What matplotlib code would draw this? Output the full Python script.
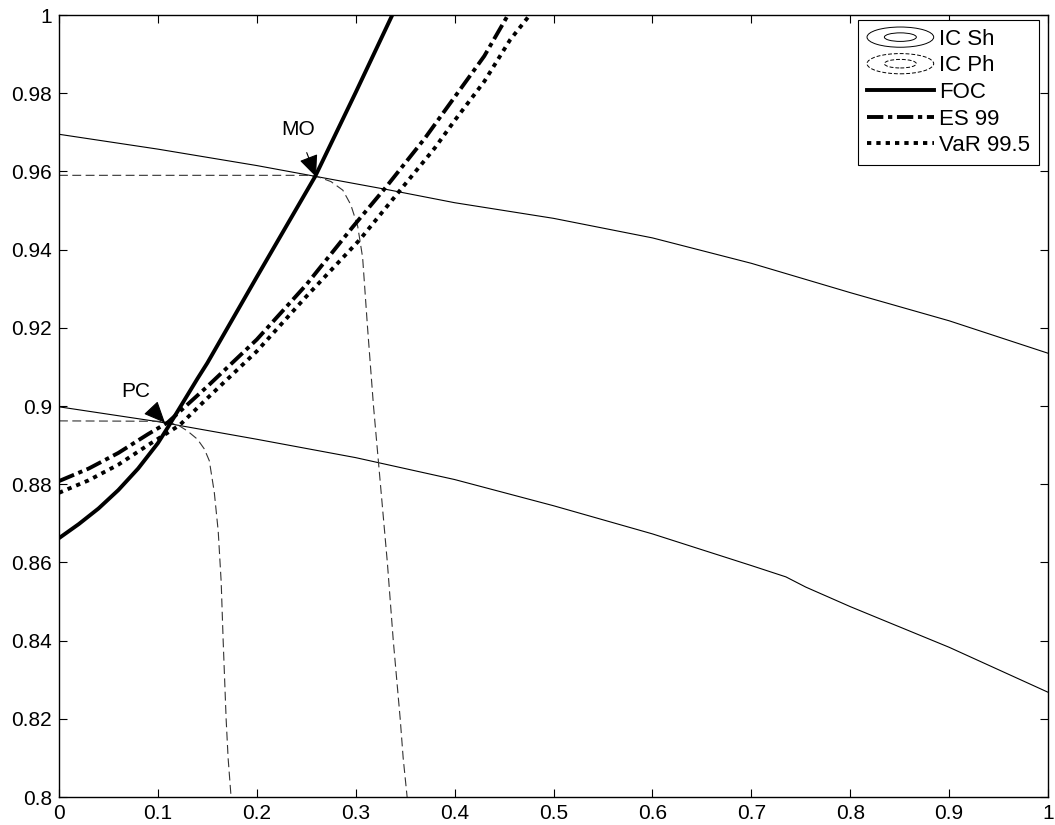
import matplotlib
matplotlib.use("Agg")
import matplotlib.pyplot as plt
from matplotlib.patches import Ellipse
from matplotlib.legend_handler import HandlerBase
from matplotlib.lines import Line2D
from matplotlib.ticker import FuncFormatter, MultipleLocator

plt.rcParams['font.family'] = ['Liberation Sans', 'DejaVu Sans']

# ---- data ----
ic_sh_x = [0.0, 0.1, 0.2, 0.26, 0.333, 0.4, 0.5, 0.6, 0.7, 0.8, 0.9, 1.0]
ic_sh_hi = [0.9695, 0.9657, 0.9615, 0.9587, 0.9553, 0.9520, 0.9480, 0.9430, 0.9365, 0.9290, 0.9218, 0.9135]
ic_sh_lo_x = [0.0, 0.1, 0.2, 0.3, 0.4, 0.5, 0.6, 0.7, 0.735, 0.755, 0.8, 0.9, 1.0]
ic_sh_lo = [0.8998, 0.8960, 0.8915, 0.8868, 0.8812, 0.8745, 0.8673, 0.8592, 0.8563, 0.8537, 0.8487, 0.8383, 0.8268]

ic_ph_hi_x = [0.0, 0.25, 0.262, 0.275, 0.287, 0.295, 0.302, 0.307, 0.312, 0.318, 0.325, 0.332, 0.338, 0.345, 0.348, 0.352]
ic_ph_hi_y = [0.9590, 0.9590, 0.9586, 0.9574, 0.9552, 0.9515, 0.9460, 0.9380, 0.9200, 0.9000, 0.8800, 0.8600, 0.8400, 0.8200, 0.8100, 0.8000]
ic_ph_lo_x = [0.0, 0.10, 0.11, 0.12, 0.13, 0.14, 0.147, 0.152, 0.157, 0.161, 0.164, 0.166, 0.169, 0.171, 0.174]
ic_ph_lo_y = [0.8962, 0.8961, 0.8958, 0.8952, 0.8936, 0.8915, 0.8890, 0.8860, 0.8780, 0.8680, 0.8550, 0.8400, 0.8200, 0.8100, 0.8000]

foc_x = [0.0, 0.02, 0.04, 0.06, 0.08, 0.10, 0.11, 0.14, 0.15, 0.2, 0.259, 0.3, 0.337]
foc_y = [0.8662, 0.8698, 0.8738, 0.8785, 0.8840, 0.8905, 0.8945, 0.9070, 0.9110, 0.9330, 0.9587, 0.9802, 1.0000]

es_x = [0.0, 0.03, 0.06, 0.09, 0.11, 0.15, 0.2, 0.25, 0.297, 0.331, 0.37, 0.4, 0.43, 0.454]
es_y = [0.8808, 0.8840, 0.8880, 0.8928, 0.8958, 0.9050, 0.9170, 0.9310, 0.9458, 0.9561, 0.9685, 0.9790, 0.9895, 1.0000]

var_x = [0.0, 0.03, 0.06, 0.09, 0.122, 0.15, 0.2, 0.25, 0.304, 0.345, 0.38, 0.4, 0.43, 0.456, 0.476]
var_y = [0.8778, 0.8810, 0.8850, 0.8900, 0.8951, 0.9020, 0.9140, 0.9280, 0.9425, 0.9552, 0.9660, 0.9730, 0.9830, 0.9936, 1.0000]

mo_tip = (0.2599, 0.9586)
mo_text = (0.2417, 0.9706)
pc_tip = (0.1072, 0.8957)
pc_text = (0.0779, 0.9036)

# ---- figure ----
fig = plt.figure(figsize=(10.55, 8.25), dpi=100)
ax = fig.add_axes([0.0559, 0.0339, 0.9375, 0.9479])

thin = dict(color='black', lw=0.8)
dash = dict(color='#333333', lw=0.8, dashes=(8, 4))
es_dash = (4.2, 1.2, 1.1, 1.2)
var_dash = (1.1, 1.3)

ax.plot(ic_sh_x, ic_sh_hi, **thin)
ax.plot(ic_sh_lo_x, ic_sh_lo, **thin)
ax.plot(ic_ph_hi_x, ic_ph_hi_y, **dash)
ax.plot(ic_ph_lo_x, ic_ph_lo_y, **dash)
ax.plot(foc_x, foc_y, color='black', lw=2.8, solid_capstyle='butt')
ax.plot(es_x, es_y, color='black', lw=2.8, dashes=es_dash)
ax.plot(var_x, var_y, color='black', lw=2.8, dashes=var_dash)

ap = dict(arrowstyle='-|>,head_length=0.75,head_width=0.33', color='black', lw=0.8,
          shrinkA=8, shrinkB=0, mutation_scale=18)
ax.annotate('MO', xy=mo_tip, xytext=mo_text, ha='center', va='center', fontsize=15,
            arrowprops=ap)
ax.annotate('PC', xy=pc_tip, xytext=pc_text, ha='center', va='center', fontsize=15,
            arrowprops=ap)

ax.set_xlim(0, 1)
ax.set_ylim(0.8, 1.0)
ax.xaxis.set_major_locator(MultipleLocator(0.1))
ax.yaxis.set_major_locator(MultipleLocator(0.02))
fmt = FuncFormatter(lambda v, p: ('%.2f' % v).rstrip('0').rstrip('.'))
ax.xaxis.set_major_formatter(fmt)
ax.yaxis.set_major_formatter(fmt)
ax.tick_params(direction='in', length=6, width=0.8, top=True, right=True,
               labelsize=15, pad=5)
for s in ax.spines.values():
    s.set_linewidth(1.0)


class EllipseHandler(HandlerBase):
    def __init__(self, ls):
        super().__init__()
        self.ls = ls

    def create_artists(self, legend, orig_handle, xdescent, ydescent, width, height, fontsize, trans):
        cx = width / 2 - xdescent
        cy = height / 2 - ydescent
        kw = dict(fill=False, edgecolor='black', lw=0.7, linestyle=self.ls, transform=trans)
        e1 = Ellipse((cx, cy), width * 1.0, height * 1.3, **kw)
        e2 = Ellipse((cx, cy), width * 0.48, height * 0.55, **kw)
        return [e1, e2]


h_sh = Line2D([], [], color='black')
h_ph = Line2D([], [], color='black', ls='--')
h_foc = Line2D([], [], color='black', lw=2.8)
h_es = Line2D([], [], color='black', lw=2.8, dashes=es_dash)
h_var = Line2D([], [], color='black', lw=2.8, dashes=var_dash)

leg = ax.legend([h_sh, h_ph, h_foc, h_es, h_var],
                ['IC Sh', 'IC Ph', 'FOC', 'ES 99', 'VaR 99.5'],
                handler_map={h_sh: EllipseHandler('-'), h_ph: EllipseHandler((0, (4, 2)))},
                loc='upper right', bbox_to_anchor=(0.991, 0.9936), fontsize=16,
                fancybox=False, edgecolor='black', framealpha=1, handlelength=3.0,
                handletextpad=0.25, labelspacing=0.25, borderpad=0.4, borderaxespad=0)
leg.get_frame().set_linewidth(0.8)

fig.savefig('out.png', dpi=100)
